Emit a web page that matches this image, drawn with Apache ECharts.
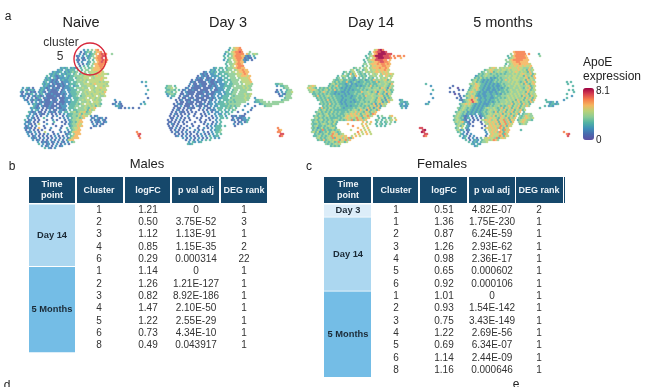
<!DOCTYPE html>
<html><head><meta charset="utf-8">
<style>html,body{margin:0;padding:0;background:#fff}#c{width:650px;height:387px;filter:blur(0.5px)}</style>
<script src="https://cdn.jsdelivr.net/npm/echarts@6/dist/echarts.min.js"></script>
</head><body><div id="c"></div>
<script>
// Expression levels: [row, startColumn, one digit per cell, '.' = no cell]
const naiveCells = [
[5,34,"2.3.4.67"],[6,33,"1.2343.4667"],[7,32,"2.13.2346.7877"],[7,48,"4"],[8,31,"12.2.3234.67788"],[9,31,"1.21.23.46778.7"],[10,31,"21.12.3.3.677877"],[11,31,"1.2..23.4.67877"],
[12,32,"2.1.23.4667776"],[13,32,"1.3.3.4.66776"],[14,23,"2323.2323"],[14,33,"3.4.34566676"],[15,21,"232.32333.3"],[15,33,"3.44.566665"],
[16,19,"23223.2323434.3.4.45555665"],[17,17,"32323.23233.34.3454.4555565554"],[18,16,"3.2321232.3233444545555456555"],[19,15,"232.3212223233.3444555.54555655"],
[20,15,"3232121.2322333.44545455555565"],[21,14,"23.21212.12223.3344454.5555545455"],[21,63,"2.3"],[22,14,"3232.1211212.23334.44555456555554"],[23,14,"232121.1121223.233.4445554.555455"],[23,65,"2"],
[24,4,"2.32.1"],[24,13,"23212.1211.122233.444544.55455655"],[25,3,"3.21232"],[25,12,"232.121112.12.22333.44455.54554555"],[25,66,"3"],
[26,3,"21.3.121"],[26,12,"2321.21111.122.233344.454555455546"],[27,3,"1.2123.2"],[27,12,"23.21121111212.23334.445454555455"],[27,65,"2"],
[28,3,"212.1.21"],[28,11,"3212.1111211.12.22334.34455545.5445"],[29,4,"2.1.2.1"],[29,11,"23.1211111.111222.3334445.455454"],[29,66,"1"],
[30,5,"21.21"],[30,10,"3212.111.112.1122.3.33445455.54544"],[30,50,"2"],[31,6,"2.1"],[31,10,"2.212111211.1112223334.44454.5554"],[31,50,"1.2"],[31,64,"2"],
[32,7,"2"],[32,9,"23212.11121.11212.23334345.55454"],[32,49,"12.21"],[32,63,"2.3"],[33,9,"321.21112111.1222.33344.44545"],[33,50,"2321"],
[34,8,"23212.1.1211.21122.3334.4445"],[34,52,"21.1.2.1"],[34,62,"1"],[35,8,"2.32.1.1.2.11.2212.3.3344"],[36,7,"3212.11.1.2121.22.33.445"],[37,7,"2.21.211.2.1.1.1.2.23344"],
[38,6,"32.2.1.1..2..1.2..1.2334"],[38,38,"2.12"],[39,6,"2.21.1..3...1...1.2.2.34"],[39,38,"12.212.1"],[40,5,"3.12.1.1...1..2.1...1.234"],[40,38,"2.121.21"],
[41,5,"212.1.1..1....3...1.1.234"],[41,38,"1.212.12"],[42,5,"2.21.1.5...2..1.....1.2344"],[42,39,"2.1.21"],[43,5,"12.1.2...1.....1..1...2344"],[43,39,"12.1"],
[44,5,"2121.1.6..1..2....1..3.345"],[44,38,"1"],[45,5,"1.2.1.1.1...1....2...2.3456"],[46,6,"212.2.1..5...1...1.2.13566"],[46,61,"7"],[47,6,"2.1.2.1.1.2..1.2...123.466"],[47,61,"78"],
[48,7,"2.12.1.1.1.1.2.1.1.2.3466"],[48,62,"8"],[49,8,"212.1.2.1.1.2.1.2.13566"],[49,62,"7"],[50,9,"2.12.1.1.2.1.2.1.2566"],[51,11,"2.1212.12.1.21.2.34"],[52,12,"3.2.12.1.2.1.2.1"],[53,13,"2.12.1.2.12"],[54,15,"3.21.2"],
[32,41,"543"],[33,38,"45354"],[34,36,"43556"],[35,33,"4453645"],[36,31,"34556345"],[37,31,"4635445"],[38,30,"4354655"],[39,30,"45346"],[40,30,"4556"],[41,30,"3566"],[42,31,"565"],[43,31,"656"],[44,31,"56"],[45,32,"6"],[46,32,"6"],[47,32,"6"],[49,31,"6"]];
const day3Cells = [
[4,35,"3.5667"],[5,34,"2.45677"],[6,33,"34.567787"],[6,45,"4"],[7,32,"2.34567777.64.454"],[8,32,"3.3.4677766212.3"],[9,32,"3.445677761211.2"],[10,32,"2.34.56776212.1"],[11,33,"344.567662"],
[12,33,"3.4456776"],[13,33,"3.45.6777"],[14,27,"23.33.3444567766"],[15,25,"232.3.3.344.4566766"],[16,22,"12.2323.33344.45.566766"],[17,20,"2121.223.23.334444555676"],
[18,19,"1.2121.2223.33.3444.5566656"],[19,18,"1212.112.2.22.33.444.455556"],[20,16,"1.2111.21211.2223.334444.55556"],[21,15,"121.1111.2112122.33.3444.455556"],
[22,15,"2.11.2111.2112.2223.33444.4.5554"],[22,58,"3344"],[23,3,"344.3"],[23,14,"1.2111211.11212.2233334.44454544"],[23,58,"2.3344"],
[24,3,"3445.4"],[24,13,"12.11111.11112.12223.33.444445454"],[24,62,"344"],[25,3,"33443.3"],[25,11,"12.11211.1111.2.11222.33.344.444544"],[25,58,"1.2"],[25,63,"344"],
[26,3,"3443.4"],[26,11,"1.21111.111211.11222.233.344.4444"],[26,58,"12.2"],[26,63,"3445"],[27,3,"23443"],[27,10,"11.2111.1111.12112.22.233344.44454"],[27,59,"1.21"],[27,63,"444"],
[28,4,"2.33"],[28,10,"1.211.1.11.2111.12.2.2333.43444"],[28,60,"12"],[28,63,"444"],[29,5,"2"],[29,9,"1.11.211.1111.11212.22333.3444"],[29,47,"2"],[29,62,"3444"],
[30,8,"1.12.111.211.111.21.2.3.33344"],[30,48,"3344"],[30,61,"3444"],[31,8,"1.11.1211.111.1.12.2.233.34"],[31,47,"2"],[31,48,"33444.4.444444"],
[32,7,"1.211.1111.1.112.122.2333"],[32,44,"2"],[32,50,"2344444444"],[33,7,"11.2.111.1.211.11.2.22.33"],[33,42,"2"],[33,47,"1"],[33,52,"3444"],
[34,7,"1.11.1.1211..1.2.11.2.3"],[34,46,"2"],[35,6,"1.21.1.1.1...1.1.1.212.3"],[35,41,"2"],[35,45,"1"],[36,6,"1.1.211.1.1.1...1.2.1.2"],[36,39,"1"],[36,44,"2"],
[37,5,"1.21.1.1.1..1..1.1.2..2.2"],[37,42,"1"],[38,5,"1.1.1.1..2..1...1.1..1.2.3"],[38,36,"121.211"],[39,5,"11.2.1.1.1...1.1...1.1.2.3"],[39,36,"1.21122.3"],
[40,4,"1.1.1.2.1..1....1..1.1..2.3"],[40,36,"12.1.1223"],[41,4,"11.1.1.1.1...1..1.1...1.2.3"],[41,37,"1.12.13"],[42,4,"1.21.1..1...1.....1.2.1.2.3"],[42,37,"2.1.2"],
[43,4,"1.1.1.1..1..1..1...1.2.233"],[43,37,"1"],[44,5,"11.2.1.1..2...1..2.1.2.333"],[44,59,"7"],[45,5,"1.1.1.1.1...2.1.1...2.2334"],[45,59,"76"],
[46,6,"1.21.1.2.1.1.2..2.1.2.334"],[46,59,"77"],[47,7,"1.1.1.1.1..1.2.1.1.2.3.3"],[47,60,"88"],[48,8,"12.1.2.1.1.1.2.2.3.233"],[48,60,"87"],
[49,11,"2.1.2.1.2.1.1.3.2.2"],[50,13,"1.2.1.2.2.3.3"],[51,14,"2.32.23"],[52,14,"323"],
[27,44,"45"],[28,41,"44545"],[29,39,"444544"],[30,37,"34444454"],[31,35,"34344444"],[32,32,"343444444"],[33,32,"33434344"],[34,30,"33.3434.3"],[35,30,"3.3.3.34"],[36,29,"2.3.23.3"],[37,30,"2.3.3"],[38,31,"3.2"],[39,31,"3.3"],[43,30,"3.3"]];
const day14Cells = [
[5,37,"56897"],[6,35,"3.6788998"],[7,34,"34.679999888"],[8,33,"3.45799998887.7.77.7"],[9,33,"34.5689998887.7..6"],[10,32,"3.4566888877.6"],[11,32,"3.44566788776"],
[12,32,"44.56667677676"],[13,31,"3.4.4656667766"],[14,27,"34.4.45.4566676676"],[15,25,"45.34.345.4556566765"],[16,22,"34.345.434.545456656565"],
[17,21,"3.43635.4343.4.545.4656565"],[18,19,"3.4543.436.4343.4454.54.6545"],[19,18,"34.34.3432.3.34.343.4.4545.5"],[20,17,"4334533433234334234364454563"],
[21,16,"4353433632343233433433634454544"],[22,15,"345343332342323334343433454454"],[22,63,"3"],[23,4,"4565"],[23,14,"343463433232332323343634344454"],[23,65,"2"],
[24,4,"56543"],[24,10,"343435343432323233343434453445"],[25,4,"4565434345343634332323233343434445445"],[25,66,"3"],[26,5,"4534434643433233223233343364454"],
[27,6,"33434343433232332323343443445454"],[27,65,"2"],[28,7,"43634345434333232332334343644544"],[29,8,"343434343433323332334334344454"],[29,66,"2"],
[30,9,"34343634343323233323434344454"],[30,50,"23"],[31,10,"434343434323233232334434354"],[31,50,"3323"],[31,64,"2"],[32,10,"3434363434323233334343454"],[32,50,"32.23"],[32,63,"23"],
[33,11,"34343434433323233343434"],[33,50,"2322"],[34,10,"3634354343432333343454"],[34,51,"3.2"],[35,9,"43453434333333343454"],[36,8,"34534343534343343454645"],
[37,8,"43434534343433454656"],[38,7,"343543453434334356565"],[38,39,"3.4"],[38,45,"56"],[39,7,"45343434333343456545"],[39,39,"3.33.34.5"],
[40,6,"4343453434345434346573"],[40,38,"34.3.4.45.6"],[41,6,"3453434354353"],[41,31,"6.4.6"],[41,38,"3.3.34.4.3"],[42,6,"4334345434353"],[42,24,"6"],[42,31,"5.6.5"],[42,38,"3.43.3.4"],
[43,6,"345334345"],[43,17,"3"],[43,26,"7"],[43,31,"6.5"],[43,38,"3.3.3"],[44,6,"43423534345"],[44,29,"6"],[44,32,"5.6"],[44,60,"88"],[45,6,"343437343"],[45,25,"5"],[45,30,"6.5.5"],[45,61,"89"],
[46,6,"453523435356"],[46,29,"7.5.6.5"],[46,61,"98"],[47,7,"343434534756"],[47,27,"5.6.5.6.5"],[47,62,"88"],[48,7,"33453434575655656"],[48,26,"5.6.5"],[48,62,"87"],
[49,8,"4534345473656465736"],[50,9,"34363454565365746"],[51,12,"343453475535"],[52,13,"43434545"],[53,15,"34343"],
[20,45,"5"],[22,45,"36"],[23,44,"354"],[24,40,"3654264"],[25,41,"463534"],[26,36,"34625436453"],[27,38,"36435264"],[28,39,"4563435"],[29,38,"36452534"],[30,38,"356342645"],[31,37,"34652436"],[32,35,"436253645"],[33,34,"354636254"],[34,32,"346352463"],[35,29,"36452634536"],[36,31,"43653546"],[37,28,"4635465376"],[38,28,"654365745"],[39,27,"47563456"],[40,28,"575646"],[43,15,"434"],[44,17,"53"],[45,15,"34345"],[46,18,"434"],[47,19,"345"]];
const month5Cells = [
[6,37,"677777"],[7,35,"4.677777.7"],[7,49,"3"],[8,34,"3.46777776"],[8,50,"4"],[9,34,"3456777776"],[10,33,"4.5677777666"],[11,33,"44566776666"],[12,33,"3.45666766665"],
[13,32,"4.4556566565"],[14,25,"4565.45455655565544"],[15,22,"34565445455454555654"],[16,21,"34.45634545434545654545"],[17,19,"3434543443434344454545654"],[18,18,"23434544434344454545545"],
[19,17,"343534342323434445455454"],[20,16,"34534323232343434645455544"],[21,16,"453432323234343444545454"],[21,63,"3.3"],[22,15,"45465433232323234344454554"],[22,64,"3"],
[23,6,"1"],[23,15,"345653323232322343454454544"],[23,66,"3"],[24,5,"1"],[24,9,"0"],[24,15,"345653323223232323434454454"],[25,9,"1.1"],[25,14,"3454643232232232334345445454"],[25,64,"3.3"],
[26,5,"1.1"],[26,14,"4565432322322323433434544544"],[26,67,"3"],[27,7,"0.1"],[27,13,"34545323223323323243445454545"],[27,63,"3"],[28,10,"1.2"],[28,13,"45465322322332343344454545"],[28,66,"2"],
[29,8,"1.1"],[29,13,"3456463232332233434345454544"],[29,63,"3"],[30,10,"21"],[30,12,"34568653233232334344454545"],[30,53,"3"],[30,62,"2"],[31,11,"2345686532323232343444545"],[31,53,"3323.2"],
[32,10,"3456564323232223434445454"],[32,55,"23323"],[33,10,"34545432323232343445"],[33,52,"3"],[33,54,"232"],[34,9,"4345434323232345445"],[34,50,"3"],[35,9,"34543432323234345454"],
[36,8,"345434232323234345"],[36,42,"3"],[37,8,"4543423232.323434545"],[37,41,"34454"],[38,7,"34543212.1.2.12345"],[38,40,"4346544"],[39,7,"45434123.1.2.1.34565"],[39,39,"43456545"],
[40,7,"3454321.2.1.1.45656"],[40,39,"34565443"],[41,7,"45456321.1...1.45656"],[41,39,"45654"],[42,8,"34543.21.....1.54656"],[42,40,"3454"],[43,8,"4535.32.1.....1.56565"],
[44,8,"34.5.32......1.565656"],[45,8,"4523.12.......2.55656"],[45,40,"3"],[46,9,"34.2.1........2.5656"],[46,62,"7"],[47,10,"32.1.2.......2.56556"],[47,63,"78"],
[48,10,"3.23.1.2.....1.5655"],[48,64,"8"],[49,11,"23.1.2.1.3.55655"],[50,13,"3.1.232.34554"],[51,14,"3.232.3445"],[52,16,"32.32"],[53,17,"23"],
[13,44,"56"],[14,44,"464"],[15,42,"53645"],[16,43,"5364"],[17,44,"4635"],[18,41,"5364536"],[19,41,"4563546"],[20,42,"536454"],[21,40,"34635465"],[22,41,"5364356"],[23,42,"456345"],[24,42,"354635"],[25,42,"456345"],[26,42,"536454"],[27,42,"463545"],[28,39,"4536453645"],[29,41,"5364535"],[30,38,"3645354636"],[31,36,"35463545364"],[32,35,"46354536453"],[33,30,"343465354635464"],[34,28,"434635463546354"],[35,29,"35463546354635"],[36,26,"436354635463546"],[37,28,"546354635463"],[38,25,"54635465354635"],[39,27,"54365463546"],[40,26,"456365746365"],[41,27,"5636574636"],[42,28,"463657465"],[43,29,"5746365"],[44,29,"476365"],[45,30,"63756"],[46,29,"476356"],[47,30,"6375"],[48,29,"576365"],[49,27,"473565"],[50,26,"5764"]];
const panelTitles = ["Naive","Day 3","Day 14","5 months"];
const panels = [naiveCells, day3Cells, day14Cells, month5Cells];
const legendTitle = ["ApoE","expression"];
const legendMax = 8.1, legendMin = 0;

const tableHeaders = [["Time","point"],["Cluster"],["logFC"],["p val adj"],["DEG rank"]];
const maleClusters = [1,2,3,4,6,1,2,3,4,5,6,8];
const maleLogFC = ["1.21","0.50","1.12","0.85","0.29","1.14","1.26","0.82","1.47","1.22","0.73","0.49"];
const malePval = ["0","3.75E-52","1.13E-91","1.15E-35","0.000314","0","1.21E-127","8.92E-186","2.10E-50","2.55E-29","4.34E-10","0.043917"];
const maleRank = [1,3,1,2,22,1,1,1,1,1,1,1];
const maleGroups = [["Day 14",5],["5 Months",7]];
const femaleClusters = [1,1,2,3,4,5,6,1,2,3,4,5,6,8];
const femaleLogFC = ["0.51","1.36","0.87","1.26","0.98","0.65","0.92","1.01","0.93","0.75","1.22","0.69","1.14","1.16"];
const femalePval = ["4.82E-07","1.75E-230","6.24E-59","2.93E-62","2.36E-17","0.000602","0.000106","0","1.54E-142","3.43E-149","2.69E-56","6.34E-07","2.44E-09","0.000646"];
const femaleRank = [2,1,1,1,1,1,1,1,1,1,1,1,1,1];
const femaleGroups = [["Day 3",1],["Day 14",6],["5 Months",7]];

// Layout and style
const FONT = '"Liberation Sans",Arial,sans-serif';
const PW = 140, PH = 112;
const panelX = [15,160,300,440], panelY = 40;
const spectral = ['#5e4fa2','#4a69ad','#3f8fb8','#52b3a3','#8ccb95','#b9d277','#f4b65f','#f67e4b','#d53e4f','#9e0142'];
const groupFill = {"Day 3":"#dcedf9","Day 14":"#acd7f0","5 Months":"#74bde6"};
const HEAD = "#16486b", TXT = "#333";
const maleLay = {cols:[[29,75],[77,123],[125,170],[172,219],[221,267]],centers:[52,99,148,196,244],title:"Males",titleX:147};
const femaleLay = {cols:[[324,371],[373,418],[420,467],[469,515],[516,563]],centers:[348,396,444,492,539],title:"Females",titleX:442};
const headTop=177, headBot=203, rowTop=204.5, rowH=12.32, firstRow=210;

const rects=[], texts=[];
function T(x,y,s,size,opt){texts.push([x,y,s,size,(opt&&opt.bold)?1:0,(opt&&opt.color)||TXT,(opt&&opt.align)||'center']);}
function table(lay,clu,fc,pv,rk,groups){
  T(lay.titleX,164,lay.title,13,{color:'#222'});
  lay.cols.forEach((c,i)=>{
    rects.push([c[0],headTop,c[1],headBot,HEAD]);
    const h=tableHeaders[i];
    if(h.length===2){T(lay.centers[i],185,h[0],9,{bold:1,color:'#eef4f8'});T(lay.centers[i],196,h[1],9,{bold:1,color:'#eef4f8'});}
    else T(lay.centers[i],191,h[0],9,{bold:1,color:'#eef4f8'});
  });
  let r=0;
  groups.forEach(g=>{
    const y0=rowTop+r*rowH+(r?0.8:0), y1=rowTop+(r+g[1])*rowH;
    rects.push([lay.cols[0][0],y0,lay.cols[0][1],y1,groupFill[g[0]]]);
    T(lay.centers[0],(y0+y1)/2,g[0],9.3,{bold:1,color:'#1b2a36'});
    r+=g[1];
  });
  clu.forEach((v,i)=>{
    const y=firstRow+i*rowH;
    T(lay.centers[1],y,String(v),10);T(lay.centers[2],y,fc[i],10);T(lay.centers[3],y,pv[i],10);T(lay.centers[4],y,String(rk[i]),10);
  });
}
table(maleLay,maleClusters,maleLogFC,malePval,maleRank,maleGroups);
table(femaleLay,femaleClusters,femaleLogFC,femalePval,femaleRank,femaleGroups);
rects.push([564,177,565,203,HEAD]);
panelTitles.forEach((t,i)=>T([81,228,371,503][i],23,t,14.5,{color:'#222'}));
T(61,43,"cluster",12);T(60,57,"5",12);
T(8,17,"a",12,{color:'#222'});T(12,167,"b",12,{color:'#222'});T(309,167,"c",12,{color:'#222'});T(7,386,"d",12,{color:'#222'});T(516,385,"e",12,{color:'#222'});
T(583,63,legendTitle[0],12,{align:'left',color:'#222'});T(583,77,legendTitle[1],12,{align:'left',color:'#222'});
T(596,91,String(legendMax),10,{align:'left',color:'#222'});T(596,140,String(legendMin),10,{align:'left',color:'#222'});

function points(cells){
  const out=[];
  cells.forEach(([r,c,s])=>{
    for(let k=0;k<s.length;k++){
      if(s[k]==='.')continue;
      out.push([c+k+(r%2?0.5:0),r,(+s[k])*legendMax/9]);
    }
  });
  return out;
}
const grids=[],xA=[],yA=[],series=[];
panels.forEach((cells,i)=>{
  grids.push({left:panelX[i],top:panelY,width:PW,height:PH});
  xA.push({type:'value',gridIndex:i,min:0,max:70,show:false});
  yA.push({type:'value',gridIndex:i,min:0,max:56,inverse:true,show:false});
  series.push({type:'scatter',xAxisIndex:i,yAxisIndex:i,data:points(cells),symbol:'circle',symbolSize:2.7,itemStyle:{opacity:0.85},silent:true,animation:false,progressive:0,large:false});
});
grids.push({left:0,top:0,width:650,height:387});
xA.push({type:'value',gridIndex:4,min:0,max:650,show:false});
yA.push({type:'value',gridIndex:4,min:0,max:387,inverse:true,show:false});
series.push({type:'custom',xAxisIndex:4,yAxisIndex:4,data:rects,silent:true,animation:false,clip:false,
  renderItem(p,api){const a=api.coord([api.value(0),api.value(1)]),b=api.coord([api.value(2),api.value(3)]);
    return {type:'rect',shape:{x:a[0],y:a[1],width:b[0]-a[0],height:b[1]-a[1]},style:{fill:rects[p.dataIndex][4]}};}});
series.push({type:'custom',xAxisIndex:4,yAxisIndex:4,data:texts.map((t,i)=>[t[0],t[1],i]),silent:true,animation:false,clip:false,z:5,
  renderItem(p,api){const t=texts[p.dataIndex],a=api.coord([t[0],t[1]]);
    return {type:'text',x:a[0],y:a[1],style:{text:t[2],fill:t[5],font:(t[4]?'bold ':'')+t[3]+'px '+FONT,textAlign:t[6],textVerticalAlign:'middle'}};}});
series.push({type:'custom',xAxisIndex:4,yAxisIndex:4,data:[[90,59,16]],silent:true,animation:false,clip:false,z:6,
  renderItem(p,api){const a=api.coord([api.value(0),api.value(1)]);
    return {type:'circle',shape:{cx:a[0],cy:a[1],r:api.value(2)},style:{fill:'none',stroke:'#d8283c',lineWidth:1.4}};}});

const chart=echarts.init(document.getElementById('c'),null,{renderer:'canvas'});
chart.setOption({animation:false,backgroundColor:'#fff',grid:grids,xAxis:xA,yAxis:yA,series,
  visualMap:[{type:'continuous',min:legendMin,max:legendMax,dimension:2,seriesIndex:[0,1,2,3],left:583,top:88,padding:0,itemWidth:11,itemHeight:52,
    calculable:false,showLabel:false,inRange:{color:spectral},textStyle:{color:'transparent'},realtime:false,hoverLink:false}]});
</script></body></html>
